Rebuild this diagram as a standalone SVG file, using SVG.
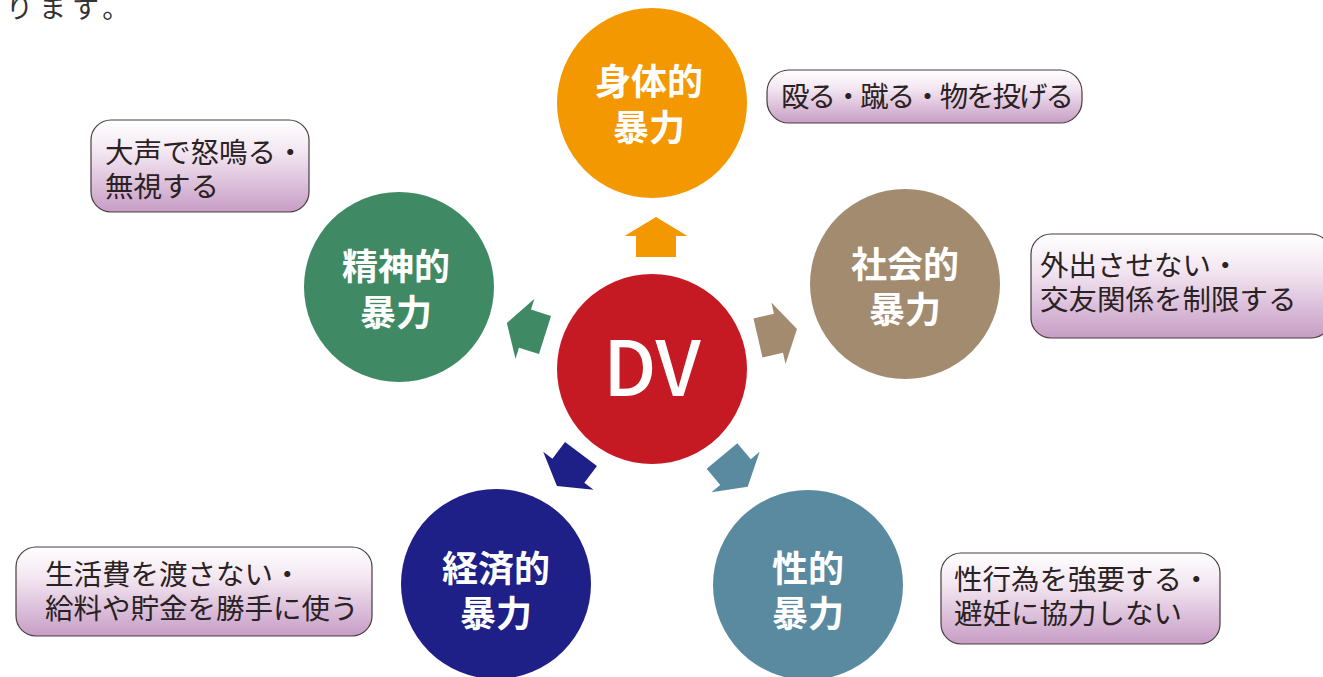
<svg xmlns="http://www.w3.org/2000/svg" width="1323" height="677" viewBox="0 0 1323 677">
<defs>
<linearGradient id="bg" x1="0" y1="0" x2="0" y2="1">
<stop offset="0" stop-color="#ffffff"/>
<stop offset="0.35" stop-color="#f3e6f1"/>
<stop offset="1" stop-color="#c79dc6"/>
</linearGradient>
<path id="arr" d="M0,-40 L31.5,-21 L20,-21 L20,0 L-20,0 L-20,-21 L-31.5,-21 Z"/>
<style>
.box{fill:url(#bg);stroke:#4a3c3c;stroke-width:1.2}
.bt{font-family:"Noto Sans CJK JP","Noto Sans",sans-serif;font-size:28.5px;fill:#2a2222}
.ct{font-family:"Noto Sans CJK JP","Noto Sans",sans-serif;font-size:36px;font-weight:700;fill:#ffffff;text-anchor:middle;dominant-baseline:central}
</style>
</defs>
<rect width="1323" height="677" fill="#ffffff"/>
<text x="6" y="18" class="bt" style="font-size:27px;letter-spacing:6px;fill:#333">ります。</text>

<g id="connectors">
<use href="#arr" fill="#F39800" transform="translate(656,257)"/>
<use href="#arr" fill="#3F8A64" transform="translate(545,335) rotate(-72.5)"/>
<use href="#arr" fill="#A38B70" transform="translate(758,338) rotate(77)"/>
<use href="#arr" fill="#1E2087" transform="translate(581,454) rotate(-143)"/>
<use href="#arr" fill="#5A8AA0" transform="translate(722,456) rotate(140)"/>
</g>

<g id="dv">
<circle cx="652" cy="369" r="95" fill="#C51A24"/>
<text x="652" y="396" text-anchor="middle" style="font-family:'Noto Sans CJK JP','Noto Sans',sans-serif;font-size:76px;font-weight:500;fill:#fff">DV</text>
</g>

<g id="physical">
<circle cx="652" cy="103" r="95" fill="#F39800"/>
<text class="ct" x="649" y="79">身体的</text>
<text class="ct" x="649" y="125">暴力</text>
</g>

<g id="social">
<circle cx="905" cy="284" r="95" fill="#A38B70"/>
<text class="ct" x="905" y="262">社会的</text>
<text class="ct" x="905" y="307">暴力</text>
</g>

<g id="mental">
<circle cx="399" cy="287" r="95" fill="#3F8A64"/>
<text class="ct" x="396" y="264">精神的</text>
<text class="ct" x="396" y="310">暴力</text>
</g>

<g id="economic">
<circle cx="496" cy="584" r="95" fill="#1E2087"/>
<text class="ct" x="496" y="566">経済的</text>
<text class="ct" x="496" y="611">暴力</text>
</g>

<g id="sexual">
<circle cx="808" cy="585" r="95" fill="#5A8AA0"/>
<text class="ct" x="808" y="566">性的</text>
<text class="ct" x="808" y="611">暴力</text>
</g>

<g id="box-physical">
<rect class="box" x="767" y="70" width="315" height="53" rx="22"/>
<text class="bt" x="781" y="107" textLength="293">殴る・蹴る・物を投げる</text>
</g>

<g id="box-mental">
<rect class="box" x="91" y="120" width="218" height="92" rx="20"/>
<text class="bt" x="105" y="163">大声で怒鳴る・</text>
<text class="bt" x="105" y="197">無視する</text>
</g>

<g id="box-social">
<rect class="box" x="1031" y="234" width="300" height="104" rx="20"/>
<text class="bt" x="1040" y="276">外出させない・</text>
<text class="bt" x="1040" y="310">交友関係を制限する</text>
</g>

<g id="box-economic">
<rect class="box" x="16" y="547" width="356" height="89" rx="20"/>
<text class="bt" x="45" y="585">生活費を渡さない・</text>
<text class="bt" x="45" y="619">給料や貯金を勝手に使う</text>
</g>

<g id="box-sexual">
<rect class="box" x="941" y="553" width="279" height="91" rx="20"/>
<text class="bt" x="954" y="590">性行為を強要する・</text>
<text class="bt" x="954" y="624">避妊に協力しない</text>
</g>
</svg>
